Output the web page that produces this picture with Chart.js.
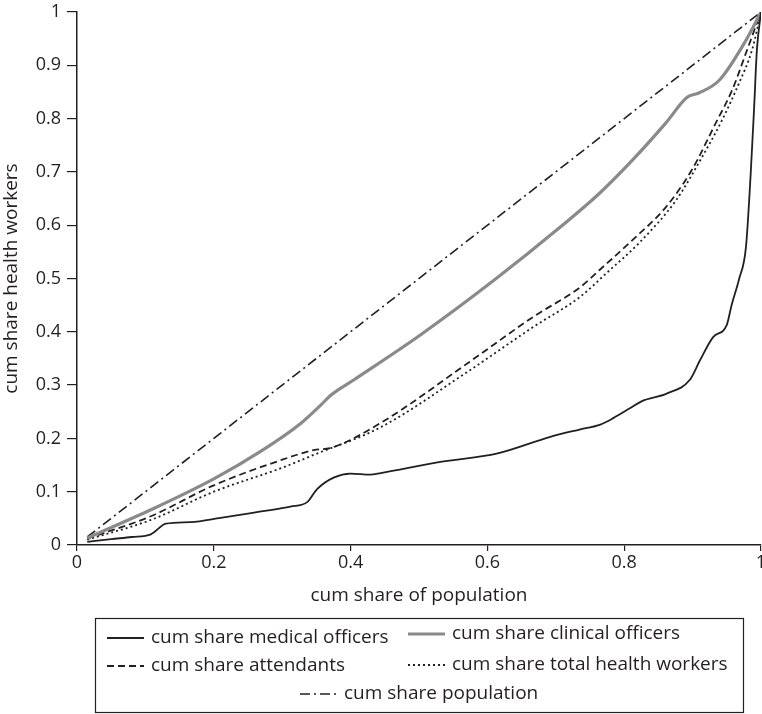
<!DOCTYPE html>
<html>
<head>
<meta charset="utf-8">
<script src="https://cdn.jsdelivr.net/npm/chart.js@4.4.1/dist/chart.umd.min.js"></script>
<style>
  body { margin: 0; background: #fff; }
  canvas { display: block; }
</style>
</head>
<body>
<canvas id="lorenz" width="762" height="714"></canvas>
<script>
// cum share of population (x) and cum share of each cadre (y)
const medicalX = [0.015, 0.05, 0.08, 0.108, 0.13, 0.166, 0.21, 0.269, 0.312, 0.337, 0.351, 0.376, 0.4, 0.429, 0.444, 0.527, 0.615, 0.692, 0.736, 0.765, 0.784, 0.809, 0.826, 0.862, 0.896, 0.911, 0.93, 0.95, 0.957, 0.968, 0.978, 0.985, 0.99, 0.994, 1];
const medicalY = [0.006, 0.011, 0.015, 0.02, 0.04, 0.043, 0.051, 0.063, 0.072, 0.081, 0.105, 0.127, 0.134, 0.132, 0.135, 0.155, 0.172, 0.203, 0.217, 0.226, 0.238, 0.257, 0.27, 0.284, 0.31, 0.347, 0.39, 0.413, 0.45, 0.499, 0.559, 0.698, 0.822, 0.929, 1];

const clinicalX = [0.015, 0.108, 0.2, 0.269, 0.327, 0.356, 0.371, 0.405, 0.502, 0.61, 0.707, 0.764, 0.812, 0.861, 0.892, 0.909, 0.939, 0.978, 1];
const clinicalY = [0.013, 0.066, 0.124, 0.176, 0.228, 0.262, 0.281, 0.31, 0.394, 0.497, 0.597, 0.66, 0.722, 0.792, 0.84, 0.848, 0.872, 0.947, 1];

const attendantsX = [0.015, 0.108, 0.2, 0.3, 0.346, 0.371, 0.444, 0.571, 0.667, 0.736, 0.764, 0.812, 0.861, 0.899, 0.934, 0.958, 0.978, 1];
const attendantsY = [0.012, 0.054, 0.112, 0.16, 0.178, 0.182, 0.229, 0.341, 0.428, 0.484, 0.516, 0.572, 0.634, 0.704, 0.792, 0.854, 0.923, 1];

const totalX = [0.015, 0.108, 0.2, 0.3, 0.346, 0.444, 0.571, 0.667, 0.736, 0.774, 0.822, 0.876, 0.909, 0.943, 0.968, 0.987, 1];
const totalY = [0.01, 0.047, 0.1, 0.145, 0.169, 0.221, 0.325, 0.409, 0.466, 0.51, 0.567, 0.647, 0.717, 0.797, 0.867, 0.929, 1];

const populationX = [0.015, 1];
const populationY = [0.015, 1];

const labels = [
  "cum share medical officers",
  "cum share clinical officers",
  "cum share attendants",
  "cum share total health workers",
  "cum share population"
];

const xTicks = [0, 0.2, 0.4, 0.6, 0.8, 1];

const ink = "#231f20";
const fontFamily = "'Open Sans', 'Noto Sans', sans-serif";

function pts(xs, ys) {
  return xs.map((x, i) => ({ x: x, y: ys[i] }));
}

// legend drawn by hand: two columns then one centred row, inside a box
const boxLegend = {
  id: "boxLegend",
  afterDraw(chart) {
    const ctx = chart.ctx;
    const ds = chart.data.datasets;
    const spots = [
      { i: 0, x: 107, y: 638 },
      { i: 1, x: 408, y: 634 },
      { i: 2, x: 107, y: 666 },
      { i: 3, x: 408, y: 665 },
      { i: 4, x: 300, y: 694 }
    ];
    ctx.save();
    ctx.strokeStyle = ink;
    ctx.lineWidth = 1.2;
    ctx.setLineDash([]);
    ctx.strokeRect(95.5, 618.5, 648, 94);
    ctx.font = "19px " + fontFamily;
    ctx.textBaseline = "middle";
    ctx.fillStyle = ink;
    spots.forEach(s => {
      const d = ds[s.i];
      ctx.beginPath();
      ctx.strokeStyle = d.borderColor;
      ctx.lineWidth = d.borderWidth;
      ctx.setLineDash(d.borderDash || []);
      ctx.moveTo(s.x, s.y);
      ctx.lineTo(s.x + 37, s.y);
      ctx.stroke();
      ctx.fillText(d.label, s.x + 44, s.y);
    });
    ctx.restore();
  }
};

const ctx = document.getElementById("lorenz").getContext("2d");
new Chart(ctx, {
  type: "line",
  data: {
    datasets: [
      { label: labels[0], data: pts(medicalX, medicalY), borderColor: ink, borderWidth: 1.8 },
      { label: labels[1], data: pts(clinicalX, clinicalY), borderColor: "#8a8a8a", borderWidth: 3.2 },
      { label: labels[2], data: pts(attendantsX, attendantsY), borderColor: ink, borderWidth: 1.8, borderDash: [7, 4] },
      { label: labels[3], data: pts(totalX, totalY), borderColor: ink, borderWidth: 1.8, borderDash: [2, 3] },
      { label: labels[4], data: pts(populationX, populationY), borderColor: ink, borderWidth: 1.6, borderDash: [10, 4, 2, 4] }
    ]
  },
  options: {
    responsive: false,
    animation: false,
    layout: { padding: { top: 0, right: 0, bottom: 107, left: 0 } },
    elements: {
      point: { radius: 0 },
      line: { cubicInterpolationMode: "monotone", fill: false }
    },
    plugins: {
      legend: { display: false },
      tooltip: { enabled: false }
    },
    scales: {
      x: {
        type: "linear",
        min: 0,
        max: 1,
        afterBuildTicks: s => { s.ticks = xTicks.map(v => ({ value: v })); },
        afterFit: s => { s.height = 62; s.paddingRight = 1; s.paddingLeft = 0; },
        grid: { drawOnChartArea: false, drawTicks: true, tickLength: 6, color: ink, lineWidth: 1.2 },
        border: { display: true, color: ink, width: 1.5 },
        ticks: { color: ink, font: { family: fontFamily, size: 18 }, padding: 1, maxRotation: 0, callback: v => String(+v.toFixed(1)) },
        title: { display: true, text: "cum share of population", color: ink, font: { family: fontFamily, size: 19 }, padding: { top: 1, bottom: 0 } }
      },
      y: {
        type: "linear",
        min: 0,
        max: 1,
        afterFit: s => { s.width = 77; s.paddingTop = 12; },
        grid: { drawOnChartArea: false, drawTicks: true, tickLength: 10, color: ink, lineWidth: 1.2 },
        border: { display: true, color: ink, width: 1.5 },
        ticks: { stepSize: 0.1, color: ink, font: { family: fontFamily, size: 18 }, padding: 6, callback: v => String(+v.toFixed(1)) },
        title: { display: true, text: "cum share health workers", color: ink, font: { family: fontFamily, size: 19 }, padding: { top: 0, bottom: 1 } }
      }
    }
  },
  plugins: [boxLegend]
});
</script>
</body>
</html>
